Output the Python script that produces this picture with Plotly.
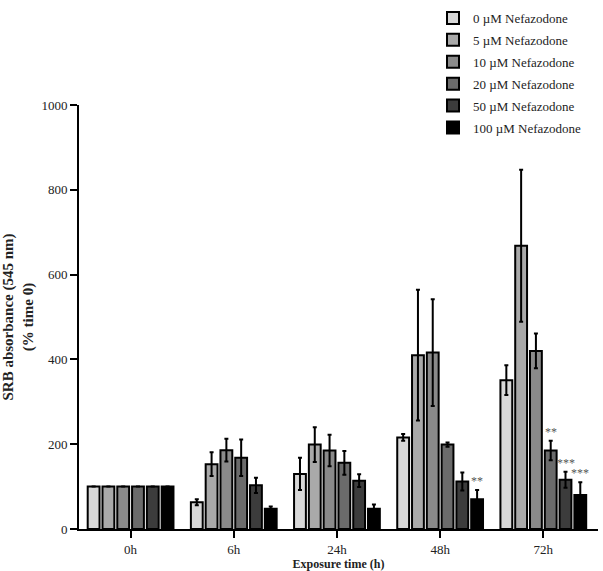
import plotly.graph_objects as go

categories = ["0h", "6h", "24h", "48h", "72h"]
series_names = ["0 \u00b5M Nefazodone", "5 \u00b5M Nefazodone", "10 \u00b5M Nefazodone",
                "20 \u00b5M Nefazodone", "50 \u00b5M Nefazodone", "100 \u00b5M Nefazodone"]
values = [
    [100, 63, 130, 216, 351],
    [100, 153, 199, 410, 668],
    [100, 186, 185, 416, 420],
    [100, 168, 156, 199, 185],
    [100, 103, 114, 112, 116],
    [100, 48, 48, 70, 80],
]
errors = [
    [0, 7, 38, 8, 35],
    [0, 28, 41, 154, 179],
    [0, 27, 37, 126, 41],
    [0, 43, 28, 5, 23],
    [0, 18, 15, 21, 19],
    [0, 5, 10, 22, 30],
]
colors = ["#d8d8d8", "#a9a9a9", "#8a8a8a", "#6b6b6b", "#3c3c3c", "#000000"]
# significance marks: (series index, category index, text)
signif = [(5, 3, "**"), (3, 4, "**"), (4, 4, "***"), (5, 4, "***")]

BARGAP = 0.14
GROUPGAP = 0.2
font_family = "Liberation Serif"

fig = go.Figure()
for i, name in enumerate(series_names):
    fig.add_trace(go.Bar(
        name=name, x=categories, y=values[i], legendgroup=f"g{i}",
        marker=dict(color=colors[i], line=dict(color="#000000", width=2)),
        error_y=dict(type="data", array=errors[i], visible=True,
                     color="#000000", thickness=2, width=2),
    ))

n = len(series_names)
slot = (1 - BARGAP) / n
annotations = []
for si, ci, txt in signif:
    xpos = ci - (1 - BARGAP) / 2 + (si + 0.5) * slot
    ytop = values[si][ci] + errors[si][ci]
    annotations.append(dict(x=xpos, y=ytop, xref="x", yref="y", text=txt,
                            showarrow=False, yanchor="bottom", yshift=0,
                            font=dict(family=font_family, size=12, color="#555555")))

fig.update_layout(
    width=603, height=571,
    margin=dict(l=79, r=5, t=105, b=42, autoexpand=False),
    paper_bgcolor="white", plot_bgcolor="white",
    barmode="group", bargap=BARGAP, bargroupgap=GROUPGAP,
    font=dict(family=font_family, size=12, color="#222"),
    showlegend=True,
    legend=dict(x=433 / 603, y=1 - 3 / 571, xref="container", yref="container",
                xanchor="left", yanchor="top",
                font=dict(family=font_family, size=13, color="#222"),
                tracegroupgap=2, traceorder="grouped",
                bgcolor="rgba(0,0,0,0)"),
    annotations=annotations,
    xaxis=dict(
        range=[-0.5, 4.53], showline=True, linecolor="#000", linewidth=2,
        ticks="outside", ticklen=7, tickwidth=2, tickcolor="#000",
        showgrid=False, zeroline=False,
        tickfont=dict(family=font_family, size=13, color="#222"),
        title=dict(text="<b>Exposure time (h)</b>", standoff=8,
                   font=dict(family=font_family, size=12, color="#222")),
    ),
    yaxis=dict(
        range=[0, 1000], tickvals=[0, 200, 400, 600, 800, 1000],
        showline=True, linecolor="#000", linewidth=2,
        ticks="outside", ticklen=7, tickwidth=2, tickcolor="#000",
        showgrid=False, zeroline=False,
        tickfont=dict(family=font_family, size=13, color="#222"),
        title=dict(text="<b>SRB absorbance (545 nm)<br>(% time 0)</b>", standoff=12,
                   font=dict(family=font_family, size=15, color="#222")),
    ),
)

fig.write_html("out.html")
